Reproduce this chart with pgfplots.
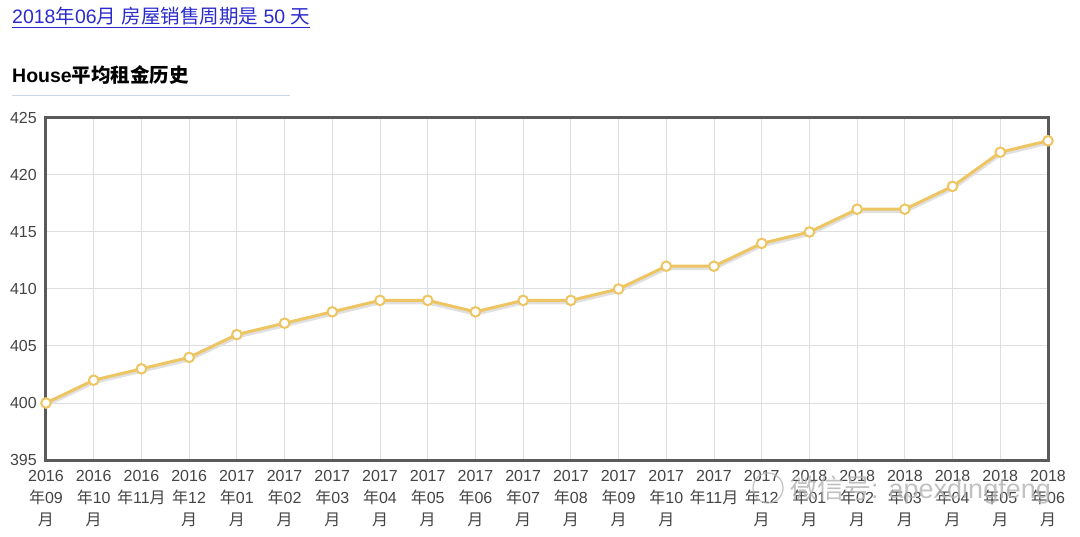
\documentclass[border=0pt]{standalone}
\usepackage{fontspec}
\setmainfont{Liberation Sans}
\newfontfamily\cjk{Noto Sans CJK SC}
\usepackage{pgfplots}
\pgfplotsset{compat=1.18}
\definecolor{linegold}{HTML}{EDC562}
\definecolor{borderc}{HTML}{5A5A5A}
\definecolor{tickc}{HTML}{444444}
\definecolor{linkblue}{HTML}{2B2BCC}
\definecolor{rulec}{HTML}{C8D6E6}
\newcommand\nian{{\cjk 年}}
\newcommand\yue{{\cjk 月}}
\begin{document}
\begin{tikzpicture}[x=1pt,y=1pt]
\useasboundingbox (-46,-76) rectangle (1034,460);
% title link
\node[anchor=base west, inner sep=0pt, text=linkblue, font=\fontsize{19.5}{22}\selectfont] at (-34,436)
  {\underline{2018\nian06\yue\ {\cjk 房屋销售周期是} 50 {\cjk 天}}};
\node[anchor=base west, inner sep=0pt, font=\fontsize{19.5}{22}\selectfont\bfseries] at (-34,377)
  {House{\cjk\bfseries 平均租金历史}};
\draw[rulec, line width=1pt] (-34,364) -- (244,364);
\begin{axis}[
  at={(0,0)}, anchor=south west,
  scale only axis, width=1002pt, height=342pt,
  xmin=0, xmax=21, ymin=395, ymax=425,
  clip=false,
  xtick={0,...,21},
  ytick={395,400,...,425},
  xticklabels={
    {2016\\\nian09\\\yue},{2016\\\nian10\\\yue},{2016\\\nian11\yue\\\strut},{2016\\\nian12\\\yue},
    {2017\\\nian01\\\yue},{2017\\\nian02\\\yue},{2017\\\nian03\\\yue},{2017\\\nian04\\\yue},
    {2017\\\nian05\\\yue},{2017\\\nian06\\\yue},{2017\\\nian07\\\yue},{2017\\\nian08\\\yue},
    {2017\\\nian09\\\yue},{2017\\\nian10\\\yue},{2017\\\nian11\yue\\\strut},{2017\\\nian12\\\yue},
    {2018\\\nian01\\\yue},{2018\\\nian02\\\yue},{2018\\\nian03\\\yue},{2018\\\nian04\\\yue},
    {2018\\\nian05\\\yue},{2018\\\nian06\\\yue}},
  /pgf/number format/assume math mode=true,
  xticklabel style={align=center, anchor=north, inner sep=0pt, yshift=-10pt, text=tickc,
    font=\fontsize{16}{22}\selectfont},
  yticklabel style={anchor=east, inner sep=0pt, xshift=-9pt, text=tickc, font=\fontsize{16}{18}\selectfont},
  major tick length=0pt,
  grid=major,
  major grid style={draw=black!13, line width=1pt},
  axis line style={draw=borderc, line width=3pt},
  tick style={draw=none},
]
\addplot[color=linegold, line width=3pt,
  preaction={draw, black!12, line width=4pt, transform canvas={yshift=-2pt}},
  mark=*, mark size=4.8pt,
  mark options={fill=white, draw=linegold, line width=2pt}]
  coordinates {
  (0,400) (1,402) (2,403) (3,404) (4,406) (5,407) (6,408) (7,409)
  (8,409) (9,408) (10,409) (11,409) (12,410) (13,412) (14,412) (15,414)
  (16,415) (17,417) (18,417) (19,419) (20,422) (21,423)
  };
\end{axis}
% watermark
\node[anchor=west, inner sep=0pt, text=black!30, opacity=0.8, font=\fontsize{27}{28}\selectfont] at (744,-30)
  {{\cjk 微信号}: apexdingfeng};
\draw[black!30, opacity=0.8, line width=1.2pt] (722,-28) circle (15);
\end{tikzpicture}
\end{document}
